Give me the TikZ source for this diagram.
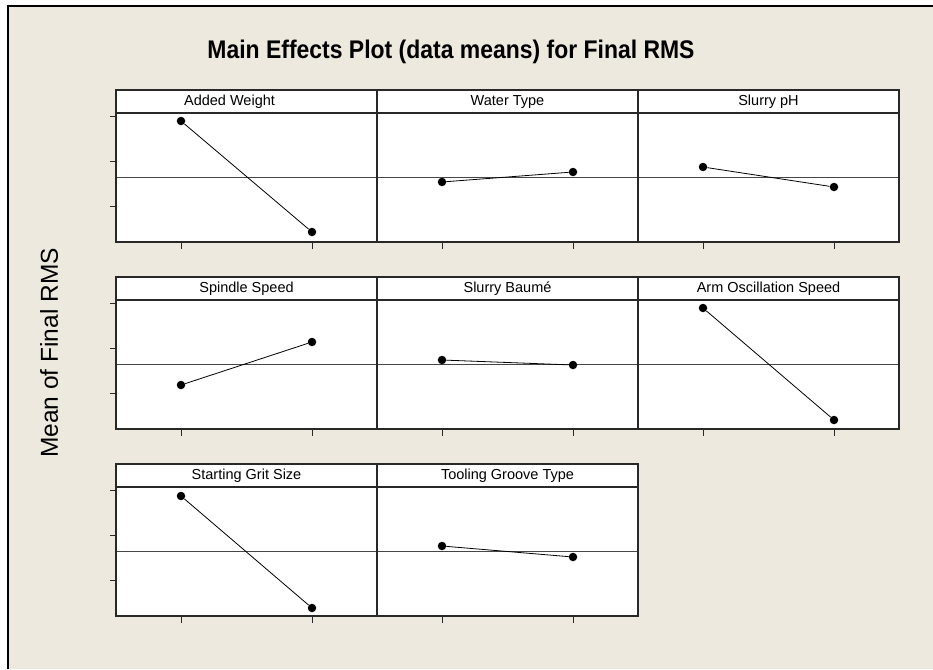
\documentclass[tikz,border=0pt]{standalone}
\usepackage{fontspec}
\setmainfont{Liberation Sans}
\definecolor{bg}{RGB}{237,233,222}
\definecolor{frm}{RGB}{40,40,40}
\definecolor{refc}{RGB}{70,70,70}
\tikzset{
  frame/.style={draw=frm, line width=1.3pt},
  refl/.style={draw=refc, line width=1pt},
  tickl/.style={draw=frm, line width=1pt},
  hdr/.style={font=\fontsize{14.5}{14.5}\selectfont, inner sep=0pt, text=black},
  mk/.style={circle, fill=black, inner sep=0pt, minimum size=8.5pt},
  conn/.style={draw=black, line width=0.8pt},
}
\newcommand{\mepanel}[7]{% #1 name, #2 x0, #3 ytop, #4 title, #5 yA, #6 yB, #7 title x-offset
  \fill[white] (#2,#3) rectangle ++(261,152);
  \draw[refl] (#2,#3+87) -- ++(261,0);
  \draw[frame] (#2,#3) rectangle ++(261,152);
  \draw[frame] (#2,#3+23) -- ++(261,0);
  \node[hdr] (#1-t) at (#2+130.5+#7,#3+12) {#4};
  \draw[tickl] (#2+65,#3+152) -- ++(0,7);
  \draw[tickl] (#2+196,#3+152) -- ++(0,7);
  \node[mk] (#1-a) at (#2+65,#5) {};
  \node[mk] (#1-b) at (#2+196,#6) {};
  \draw[conn] (#1-a) -- (#1-b);
}
\newcommand{\yticks}[1]{%
  \draw[tickl] (110,#1+26) -- (116,#1+26);
  \draw[tickl] (110,#1+71) -- (116,#1+71);
  \draw[tickl] (110,#1+116) -- (116,#1+116);
}
\begin{document}
\begin{tikzpicture}[x=1pt,y=-1pt]
\useasboundingbox (0,0) rectangle (933,669);
\fill[white] (0,0) rectangle (933,669);
\fill[bg] (8,6) rectangle (933,669);
\draw[black, line width=1.5pt] (8,669) -- (8,6) -- (933,6);

\node[font=\bfseries\fontsize{25.5}{25.5}\selectfont, inner sep=0pt] (title) at (451,52) {\scalebox{0.9}[1]{Main Effects Plot (data means) for Final RMS}};
\node[font=\fontsize{24.5}{24.5}\selectfont, inner sep=0pt, rotate=90] (ylab) at (49,353) {Mean of Final RMS};

% row 1
\mepanel{aw}{116}{90}{Added Weight}{121}{232}{-17}
\mepanel{wt}{377}{90}{Water Type}{182}{172}{0}
\mepanel{ph}{638}{90}{Slurry pH}{167}{187}{0}
\yticks{90}
% row 2
\mepanel{ss}{116}{277}{Spindle Speed}{385}{342}{0}
\mepanel{sb}{377}{277}{Slurry Baumé}{360}{365}{0}
\mepanel{ao}{638}{277}{Arm Oscillation Speed}{308}{420}{0}
\yticks{277}
% row 3
\mepanel{gs}{116}{464}{Starting Grit Size}{496}{608}{0}
\mepanel{tg}{377}{464}{Tooling Groove Type}{546}{557}{0}
\yticks{464}
\end{tikzpicture}
\end{document}
